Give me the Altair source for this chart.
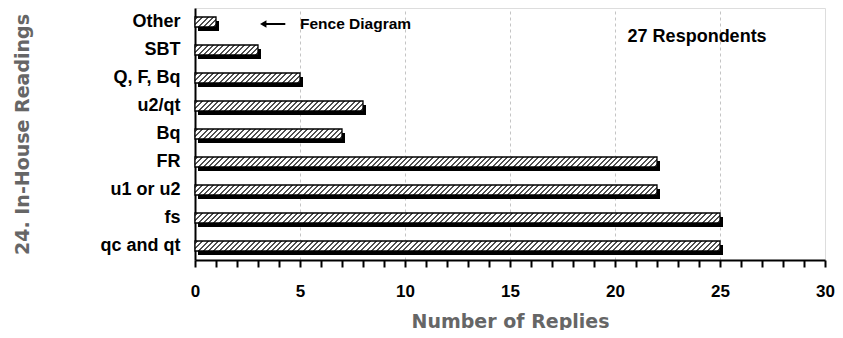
import altair as alt
import pandas as pd

categories = ["Other", "SBT", "Q, F, Bq", "u2/qt", "Bq", "FR", "u1 or u2", "fs", "qc and qt"]
replies = [1, 3, 5, 8, 7, 22, 22, 25, 25]
x_ticks = list(range(0, 31))
x_max = 30

df = pd.DataFrame({"reading": categories, "replies": replies})

W_PLOT = 630
H_PLOT = 252
BAR = 10
UNIT_PX = W_PLOT / x_max          # pixels per reply (one hatch segment)
PERIOD = UNIT_PX / 4              # four hatch lines per unit
LINE = 2.2
STRIPE = "#505050"
BG = "#ffffff"


def hatch_unit():
    """45-degree '/' hatch for a one-unit bar segment, as a linear gradient."""
    w = UNIT_PX
    h = BAR
    t = h / w
    a = (1 + t) / (1 + t * t)
    total = w + h
    stops = [{"offset": 0, "color": BG}]
    m = 0
    while True:
        s = (m * PERIOD + 1.5) / total
        if s >= 1:
            break
        e = min((m * PERIOD + 1.5 + LINE) / total, 1.0)
        s, e = round(s, 5), round(e, 5)
        stops += [
            {"offset": s, "color": BG},
            {"offset": s, "color": STRIPE},
            {"offset": e, "color": STRIPE},
            {"offset": e, "color": BG},
        ]
        m += 1
    stops.append({"offset": 1, "color": BG})
    return {"gradient": "linear", "x1": 0, "y1": 0, "x2": round(a, 5), "y2": round(a * t, 5), "stops": stops}


LABEL_FONT = "Liberation Sans"
TITLE_FONT = "DejaVu Sans"

x_axis = alt.Axis(
    values=x_ticks,
    labelExpr="datum.value % 5 == 0 ? datum.label : ''",
    labelFlush=False,
    labelOverlap=False,
    grid=True,
    gridDash=[3, 3],
    gridColor="#c4c4c4",
    gridWidth=1,
    gridOpacity={"condition": {"test": "datum.value % 5 == 0 && datum.value > 0 && datum.value < 30", "value": 1}, "value": 0},
    ticks=True,
    tickSize=7,
    tickWidth=2,
    tickColor="black",
    domainColor="black",
    domainWidth=2,
    labelFont=LABEL_FONT,
    labelFontSize=17,
    labelFontWeight="bold",
    labelColor="black",
    labelPadding=16,
    title="Number of Replies",
    titleFont=TITLE_FONT,
    titleFontSize=19,
    titleFontWeight="bold",
    titleColor="#666666",
    titleBaseline="top",
    titleY=52,
)
x_scale = alt.Scale(domain=[0, x_max], nice=False, zero=True)

y_axis = alt.Axis(
    ticks=False,
    tickSize=0,
    labelPadding=15,
    domainColor="black",
    domainWidth=2,
    grid=False,
    labelFont=LABEL_FONT,
    labelFontSize=18,
    labelFontWeight="bold",
    labelColor="black",
    title="24. In-House Readings",
    titleFont=TITLE_FONT,
    titleFontSize=19,
    titleFontWeight="bold",
    titleColor="#666666",
    titleAngle=270,
    titleAlign="center",
    titleBaseline="middle",
    titleX=-173,
    titleY=126,
)
y_scale = alt.Scale(paddingInner=0.6, paddingOuter=0.3)


def xq(field):
    return alt.X(field, type="quantitative", scale=x_scale, axis=x_axis)


def yn():
    return alt.Y("reading:N", sort=categories, scale=y_scale, axis=y_axis)


base = alt.Chart(df)

shadow = base.mark_bar(size=BAR, color="black", xOffset=3, yOffset=4).encode(x=xq("replies"), y=yn())

hatched = (
    base.transform_calculate(seg="sequence(0, datum.replies)")
    .transform_flatten(["seg"])
    .transform_calculate(seg_end="datum.seg + 1")
    .mark_bar(size=BAR, fill=hatch_unit(), strokeWidth=0)
    .encode(x=xq("seg"), x2="seg_end:Q", y=yn())
)

outline = base.mark_bar(size=BAR, fill="transparent", stroke="black", strokeWidth=1.3).encode(
    x=xq("replies"), y=yn()
)

notes_df = pd.DataFrame({
    "replies": [20.6],
    "label": ["27 Respondents"],
})
respondents = alt.Chart(notes_df).mark_text(
    align="left", baseline="middle", font=LABEL_FONT, fontSize=18, fontWeight="bold", color="black"
).encode(x=xq("replies"), y=alt.value(29), text="label:N")

fence_df = pd.DataFrame({
    "reading": ["Other"],
    "x_text": [5.0],
    "x_tip": [3.25],
    "x_tail": [4.3],
    "label": ["Fence Diagram"],
})
fence_text = alt.Chart(fence_df).mark_text(
    align="left", baseline="middle", font=LABEL_FONT, fontSize=15.5, fontWeight="bold", color="black", dy=2
).encode(x=xq("x_text"), y=yn(), text="label:N")
fence_shaft = alt.Chart(fence_df).mark_rule(color="black", strokeWidth=2, yOffset=2).encode(
    x=xq("x_tip"), x2="x_tail:Q", y=yn()
)
fence_head = alt.Chart(fence_df).mark_point(
    shape="triangle-left", filled=True, color="black", size=55, opacity=1, yOffset=2
).encode(x=xq("x_tip"), y=yn())

chart = alt.layer(shadow, hatched, outline, respondents, fence_shaft, fence_head, fence_text).properties(
    width=W_PLOT,
    height=H_PLOT,
    autosize=alt.AutoSizeParams(type="none"),
    padding={"left": 187, "top": 0, "right": 10, "bottom": 70},
).configure_view(stroke="black", strokeWidth=2).configure(background="white")

chart.save("out.html", embed_options={"renderer": "svg", "actions": False})
